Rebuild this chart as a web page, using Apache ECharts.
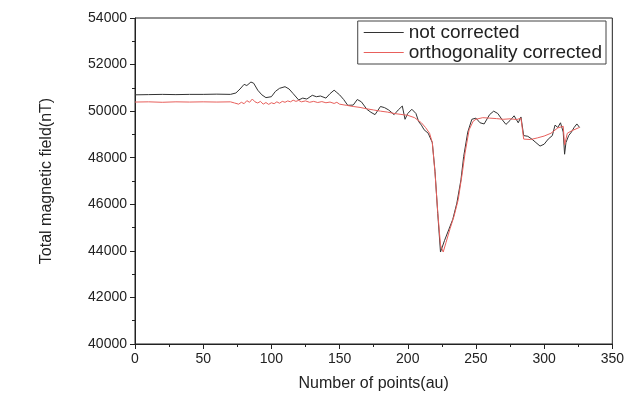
<!DOCTYPE html>
<html>
<head>
<meta charset="utf-8">
<script src="https://cdn.jsdelivr.net/npm/echarts@6/dist/echarts.min.js"></script>
<style>
  html, body { margin: 0; padding: 0; background: #fff; }
  #main { width: 627px; height: 397px; }
</style>
</head>
<body>
<div id="main"></div>
<script>
// series names
let names = ['not corrected', 'orthogonality corrected'];

// [point index, total field nT]
let notCorrected = [
    [0, 50700], [10, 50710], [20, 50720], [30, 50710], [40, 50720], [50, 50720], [60, 50730], [70, 50720],
    [74, 50780], [77, 50950], [80, 51150], [82, 51100], [85, 51250], [87, 51200], [90, 50900], [93, 50700],
    [96, 50580], [100, 50620], [103, 50850], [106, 50980], [110, 51050], [113, 50950], [116, 50750], [120, 50480],
    [123, 50560], [126, 50520], [130, 50680], [133, 50620], [136, 50650], [140, 50560], [143, 50750], [146, 50900],
    [148, 50800], [150, 50700], [153, 50500], [156, 50250], [160, 50260], [163, 50500], [166, 50400], [170, 50080],
    [173, 49950], [176, 49850], [180, 50200], [183, 50150], [186, 50050], [190, 49850], [193, 50050], [196, 50220],
    [198, 49650], [200, 49900], [203, 50080], [206, 49900], [208, 49550], [210, 49400], [212, 49200], [215, 49050],
    [218, 48650], [220, 47400], [222, 45600], [224, 43950], [225, 43880], [227, 44450], [230, 44900], [233, 45350],
    [236, 46050], [239, 47050], [241, 48050], [244, 49100], [247, 49650], [250, 49700], [253, 49500], [256, 49450],
    [260, 49850], [263, 50000], [266, 49900], [269, 49650], [272, 49430], [275, 49600], [278, 49800], [281, 49500],
    [283, 49750], [285, 48950], [288, 48920], [291, 48800], [294, 48650], [297, 48500], [300, 48580], [303, 48800],
    [306, 48950], [308, 49400], [310, 49300], [312, 49500], [313, 49450], [314, 49100], [315, 48150], [316, 48650],
    [318, 48950], [320, 49100], [322, 49300], [324, 49450], [325, 49500], [326, 49300]
];

let orthoCorrected = [
    [0, 50390], [10, 50400], [20, 50380], [30, 50400], [40, 50390], [50, 50400], [60, 50390], [70, 50400],
    [73, 50350], [76, 50300], [78, 50380], [80, 50320], [82, 50450], [84, 50380], [86, 50520], [88, 50400],
    [90, 50350], [92, 50420], [94, 50300], [96, 50370], [98, 50290], [100, 50360], [102, 50320], [104, 50400],
    [106, 50340], [108, 50420], [110, 50380], [112, 50440], [114, 50400], [116, 50470], [118, 50420], [120, 50460],
    [122, 50400], [125, 50440], [128, 50380], [131, 50420], [134, 50370], [137, 50410], [140, 50360], [143, 50390],
    [146, 50330], [148, 50380], [150, 50300], [155, 50250], [160, 50200], [165, 50160], [170, 50100], [175, 50050],
    [180, 50000], [185, 49960], [190, 49900], [195, 49860], [200, 49820], [205, 49720], [210, 49500], [213, 49300],
    [216, 49050], [218, 48650], [220, 47350], [222, 45650], [224, 44250], [226, 43950], [228, 44350], [231, 44950],
    [234, 45500], [237, 46200], [240, 47350], [242, 48200], [245, 49200], [248, 49570], [250, 49650], [255, 49720],
    [260, 49700], [265, 49680], [270, 49650], [275, 49670], [280, 49640], [283, 49700], [285, 48800], [290, 48780],
    [295, 48850], [300, 48930], [305, 49050], [310, 49280], [314, 49350], [315, 48550], [317, 49050], [320, 49150],
    [325, 49280], [326, 49300]
];

let colors = ['#333333', '#e8605c'];

let myChart = echarts.init(document.getElementById('main'));

let axisStyle = {
    axisLine: { show: true, onZero: false, lineStyle: { color: '#222', width: 1 } },
    axisTick: { show: true, inside: false, length: 5, lineStyle: { color: '#222' } },
    minorTick: { show: true, splitNumber: 2, length: 3, lineStyle: { color: '#222' } },
    splitLine: { show: false },
    axisLabel: { color: '#222', fontSize: 14, fontFamily: 'Liberation Sans', formatter: v => String(v) },
    nameTextStyle: { color: '#222', fontSize: 16, fontFamily: 'Liberation Sans' }
};

let option = {
    backgroundColor: '#fff',
    animation: false,
    grid: {
        left: 135,
        right: 13,
        top: 18,
        bottom: 53,
        show: true,
        borderColor: '#222',
        borderWidth: 1
    },
    legend: {
        data: names,
        orient: 'vertical',
        right: 21,
        top: 21,
        icon: 'rect',
        itemWidth: 40,
        itemHeight: 1,
        itemGap: 1,
        padding: [2, 4, 2, 6],
        borderColor: '#444',
        borderWidth: 1,
        textStyle: { color: '#222', fontSize: 19, fontFamily: 'Liberation Sans' }
    },
    xAxis: Object.assign({
        type: 'value',
        min: 0,
        max: 350,
        interval: 50,
        name: 'Number of points(au)',
        nameLocation: 'middle',
        nameGap: 32
    }, axisStyle),
    yAxis: Object.assign({
        type: 'value',
        min: 40000,
        max: 54000,
        interval: 2000,
        name: 'Total magnetic field(nT)',
        nameLocation: 'middle',
        nameGap: 80
    }, axisStyle),
    series: [
        {
            name: names[0],
            type: 'line',
            data: notCorrected,
            showSymbol: false,
            symbol: 'none',
            color: colors[0],
            lineStyle: { width: 1, color: colors[0] }
        },
        {
            name: names[1],
            type: 'line',
            data: orthoCorrected,
            showSymbol: false,
            symbol: 'none',
            color: colors[1],
            lineStyle: { width: 1, color: colors[1] }
        }
    ]
};

myChart.setOption(option);
</script>
</body>
</html>
